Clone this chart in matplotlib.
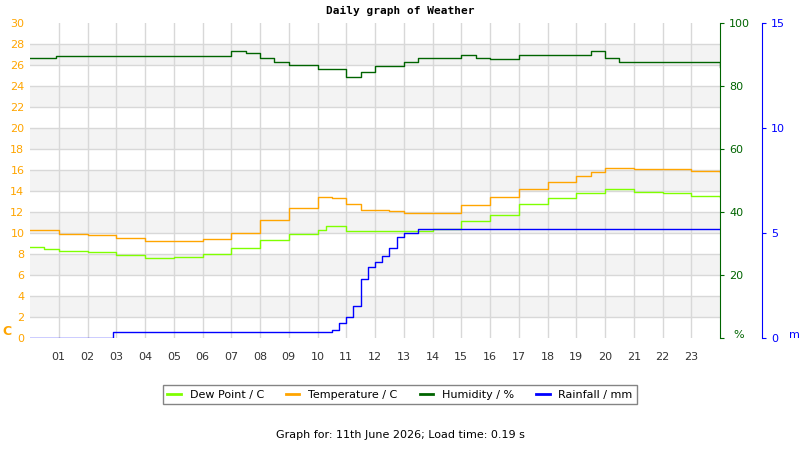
import matplotlib
matplotlib.use("Agg")
import matplotlib.pyplot as plt
import numpy as np

temp_h = [0,1,2,3,4,5,6,7,8,9,10,10.5,11,11.5,12,12.5,13,14,15,16,17,18,19,19.5,20,21,22,23,24]
temp_v = [10.3,9.9,9.8,9.5,9.2,9.2,9.4,10.0,11.2,12.4,13.4,13.3,12.8,12.2,12.2,12.1,11.9,11.9,12.7,13.4,14.2,14.9,15.4,15.8,16.2,16.1,16.1,15.9,15.8]
dew_h = [0,0.5,1,2,3,4,5,6,7,8,9,10,10.3,11,12,13,14,15,16,17,18,19,20,21,22,23,24]
dew_v = [8.7,8.5,8.3,8.2,7.9,7.6,7.7,8.0,8.6,9.3,9.9,10.3,10.7,10.2,10.2,10.2,10.4,11.1,11.7,12.8,13.3,13.8,14.2,13.9,13.8,13.5,13.4]
hum_h = [0,0.9,4.5,7,7.5,8,8.5,9,10,11,11.5,12,13,13.5,15,15.5,16,17,19.5,20,20.5,24]
hum_v = [88.9,89.5,89.5,91.1,90.4,88.9,87.6,86.7,85.4,82.9,84.4,86.4,87.6,88.9,89.8,88.9,88.6,89.8,91.1,88.9,87.6,86.0]
rain_h = [0,2.9,10.5,10.75,11,11.25,11.5,11.75,12,12.25,12.5,12.75,13,13.5,24]
rain_v = [0,0.3,0.4,0.7,1.0,1.5,2.8,3.4,3.6,3.9,4.3,4.8,5.0,5.2,5.2]
hours = ["%02d" % h for h in range(1,24)]

ORANGE = "#ffa500"; GREEN = "#006400"; LIME = "#7fff00"; BLUE = "#0000ff"
plt.rcParams['font.family'] = 'DejaVu Sans'
fig = plt.figure(figsize=(8,4.5), dpi=100)
ax = fig.add_axes([0.0375, 0.249, 0.8625, 0.7])
ax.set_xlim(0,24); ax.set_ylim(0,30)
for y0 in range(2,30,4):
    ax.axhspan(y0, y0+2, color="#f3f3f3", zorder=0, lw=0)
for y in range(2,30,2):
    ax.axhline(y, color="#d8d8d8", lw=1, zorder=0.5)
for x in range(1,24):
    ax.axvline(x, color="#d8d8d8", lw=1, zorder=0.5)
ax.step(dew_h, dew_v, where="post", color=LIME, lw=1, zorder=3)
ax.step(temp_h, temp_v, where="post", color=ORANGE, lw=1, zorder=3)
ax.set_xticks(range(1,24)); ax.set_xticklabels(hours, fontsize=8, color="#333333")
ax.set_yticks(range(0,31,2))
ax.tick_params(axis='y', colors=ORANGE, labelsize=8, length=0, pad=4)
ax.tick_params(axis='x', length=0, pad=10)
for s in ax.spines.values(): s.set_visible(False)
ax.text(-0.04, 0.01, "C", transform=ax.transAxes, color=ORANGE, fontsize=9, fontweight='bold')

ax2 = ax.twinx(); ax2.set_ylim(0,100); ax2.set_xlim(0,24)
ax2.step(hum_h, hum_v, where="post", color=GREEN, lw=1, zorder=3)
ax2.set_yticks(range(0,101,20))
ax2.set_yticklabels([""] + [str(v) for v in range(20,101,20)])
ax2.tick_params(axis='y', colors=GREEN, labelsize=8, length=3)
for k in ['top','bottom','left']: ax2.spines[k].set_visible(False)
ax2.spines['right'].set_color(GREEN)
ax2.text(1.02, 0.0, "%", transform=ax2.transAxes, color=GREEN, fontsize=8)

ax3 = ax.twinx(); ax3.set_ylim(0,15); ax3.set_xlim(0,24)
ax3.step(rain_h, rain_v, where="post", color=BLUE, lw=1, zorder=4)
ax3.spines['right'].set_position(('axes', 1.061))
ax3.spines['right'].set_color(BLUE)
for k in ['top','bottom','left']: ax3.spines[k].set_visible(False)
ax3.set_yticks([0,5,10,15])
ax3.tick_params(axis='y', colors=BLUE, labelsize=8, length=3)
ax3.text(1.1, 0.0, "mm", transform=ax3.transAxes, color=BLUE, fontsize=8)

fig.text(0.5, 0.97, "Daily graph of Weather", ha='center', fontsize=8, fontweight='bold', family='DejaVu Sans Mono')
from matplotlib.lines import Line2D
handles = [Line2D([],[],color=c,lw=2) for c in (LIME,ORANGE,GREEN,BLUE)]
fig.legend(handles, ["Dew Point / C","Temperature / C","Humidity / %","Rainfall / mm"],
           loc='center', bbox_to_anchor=(0.5, 0.123), ncol=4, fontsize=8, frameon=True,
           fancybox=False, edgecolor="#666666", handlelength=1.2, columnspacing=2)
fig.text(0.5, 0.027, "Graph for: 11th June 2026; Load time: 0.19 s", ha='center', fontsize=8)
fig.savefig("out.png", dpi=100)
